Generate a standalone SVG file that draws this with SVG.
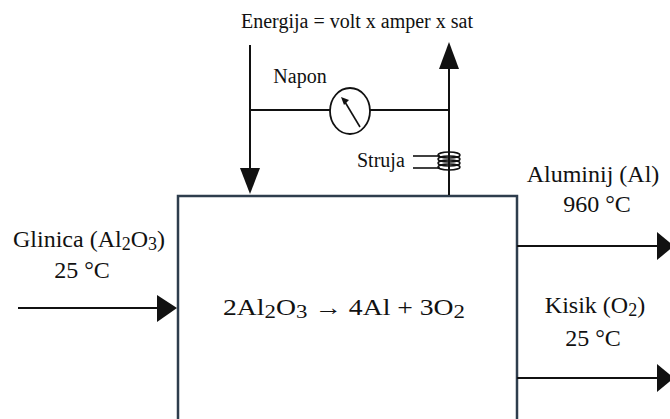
<svg xmlns="http://www.w3.org/2000/svg" width="670" height="419" viewBox="0 0 670 419">
<style>
  text { font-family: "Liberation Serif", "Times New Roman", serif; fill: #111; }
  .lbl { font-size: 24px; }
  .sm { font-size: 20px; }
  .ln { stroke: #111; stroke-width: 2; fill: none; }
  .thin { stroke: #111; stroke-width: 1.6; fill: none; }
</style>
<rect width="670" height="419" fill="#fff"/>

<g id="cell">
  <rect x="178" y="196" width="339" height="240" fill="#fff" stroke="#2e3d4d" stroke-width="2.5"/>
  <text x="223" y="315" font-size="23" textLength="242" lengthAdjust="spacingAndGlyphs">2Al<tspan font-size="19" dy="3">2</tspan><tspan dy="-3">O</tspan><tspan font-size="19" dy="3">3</tspan><tspan dy="-3"> → 4Al + 3O</tspan><tspan font-size="19" dy="3">2</tspan></text>
</g>

<g id="title">
  <text x="357" y="28" font-size="20" text-anchor="middle">Energija = volt x amper x sat</text>
</g>

<g id="meter">
  <ellipse cx="350" cy="111" rx="20" ry="23" fill="#fff" stroke="#111" stroke-width="1.8"/>
  <path d="M341,97 L349,100 L344,105 Z" fill="#111"/>
  <line x1="360" y1="127" x2="345" y2="102" class="thin"/>
  <text x="300" y="83" class="sm" text-anchor="middle">Napon</text>
</g>

<g id="coil">
  <text x="357" y="167" class="sm">Struja</text>
  <line x1="413" y1="156" x2="440" y2="156" class="thin"/>
  <line x1="413" y1="168" x2="440" y2="168" class="thin"/>
  <ellipse cx="449" cy="155" rx="11" ry="3" class="thin"/>
  <ellipse cx="449" cy="159" rx="11" ry="3" class="thin"/>
  <ellipse cx="449" cy="163" rx="11" ry="3" class="thin"/>
  <ellipse cx="449" cy="167" rx="11" ry="3" class="thin"/>
</g>

<g id="inputs">
  <text x="89" y="247" class="lbl" text-anchor="middle">Glinica (Al<tspan font-size="18" dy="3">2</tspan><tspan dy="-3">O</tspan><tspan font-size="18" dy="3">3</tspan><tspan dy="-3">)</tspan></text>
  <text x="82" y="278" class="lbl" text-anchor="middle">25 °C</text>
</g>

<g id="outputs">
  <text x="593" y="182" class="lbl" text-anchor="middle">Aluminij (Al)</text>
  <text x="597" y="212" class="lbl" text-anchor="middle">960 °C</text>
  <text x="595" y="313" class="lbl" text-anchor="middle">Kisik (O<tspan font-size="18" dy="3">2</tspan><tspan dy="-3">)</tspan></text>
  <text x="593" y="346" class="lbl" text-anchor="middle">25 °C</text>
</g>

<g id="connectors">
  <line x1="250" y1="45" x2="250" y2="168" class="ln"/>
  <path d="M240,168 L260,168 L250,194 Z" fill="#111"/>
  <line x1="250" y1="110" x2="330" y2="110" class="ln"/>
  <line x1="370" y1="110" x2="449" y2="110" class="ln"/>
  <line x1="449" y1="195" x2="449" y2="68" class="ln"/>
  <path d="M439,69 L459,69 L449,42 Z" fill="#111"/>
  <line x1="18" y1="308" x2="158" y2="308" class="ln"/>
  <path d="M157,295 L177,308 L157,322 Z" fill="#111"/>
  <line x1="517" y1="246" x2="658" y2="246" class="ln"/>
  <path d="M657,232 L674,246 L657,260 Z" fill="#111"/>
  <line x1="517" y1="378" x2="658" y2="378" class="ln"/>
  <path d="M657,364 L674,378 L657,392 Z" fill="#111"/>
</g>
</svg>
